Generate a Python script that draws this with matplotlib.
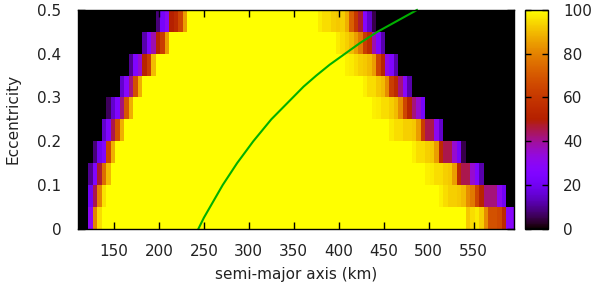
import numpy as np
import matplotlib
matplotlib.use("Agg")
import matplotlib.pyplot as plt

plt.rcParams['font.family'] = ['DejaVu Sans']

# ---- grid of the map ----
a_first_center = 109.0      # km, centre of first column
a_step = 5.0                # km
n_cols = 98
e_edges = [0.0, 0.05, 0.10, 0.15, 0.20, 0.25, 0.30, 0.35, 0.40, 0.45, 0.50]

# ---- per-row (eccentricity 0 .. 0.45) description ----
# first non-zero column on the left, values rising to the 100 plateau
left_first_col = [3, 3, 3, 4, 6, 7, 10, 12, 15, 18]
left_ramps = [
    [30, 80, 95],
    [20, 45, 80, 96],
    [10, 25, 47, 75, 90],
    [8, 20, 26, 65, 88],
    [15, 25, 45, 68, 88],
    [6, 15, 25, 42, 70, 88],
    [15, 28, 42, 68, 88],
    [10, 25, 35, 52, 62, 90],
    [12, 25, 38, 52, 62, 85],
    [8, 22, 30, 50, 55, 65, 85],
]
# last non-zero column on the right, values falling from the plateau
right_last_col = [97, 95, 90, 86, 81, 77, 74, 71, 68, 66]
right_ramps = [
    [92, 95, 97, 93, 82, 68, 68, 66, 55, 28, 28],
    [98, 95, 93, 93, 92, 90, 82, 78, 65, 52, 42, 42, 42, 30, 20],
    [98, 97, 95, 95, 93, 92, 85, 55, 45, 45, 35, 25, 12],
    [98, 95, 95, 93, 92, 85, 55, 45, 45, 35, 22, 5],
    [97, 95, 95, 93, 93, 92, 85, 62, 45, 45, 30, 15],
    [98, 97, 95, 95, 93, 90, 82, 65, 52, 42, 35, 22],
    [98, 95, 95, 92, 90, 82, 62, 55, 42, 28, 12],
    [98, 97, 95, 93, 92, 90, 85, 65, 52, 32, 25, 12],
    [97, 95, 93, 90, 85, 78, 62, 55, 38, 25, 12],
    [97, 95, 95, 93, 92, 93, 88, 72, 60, 47, 27, 15, 5],
]
plateau_value = 100

# ---- green curve ----
curve_a = [244, 250, 257, 264, 271, 279, 287, 296, 305, 315, 325, 337, 349,
           361, 375, 390, 407, 424, 443, 465, 487]
curve_e = [0.0, 0.025, 0.05, 0.075, 0.10, 0.125, 0.15, 0.175, 0.20, 0.225,
           0.25, 0.275, 0.30, 0.325, 0.35, 0.375, 0.40, 0.425, 0.45, 0.475, 0.50]

x_ticks = [150, 200, 250, 300, 350, 400, 450, 500, 550]
y_ticks = [0, 0.1, 0.2, 0.3, 0.4, 0.5]
y_ticklabels = ["0", "0.1", "0.2", "0.3", "0.4", "0.5"]
cb_ticks = [0, 20, 40, 60, 80, 100]

# ---- build the map ----
n_rows = len(e_edges) - 1
Z = np.zeros((n_rows, n_cols))
for r in range(n_rows):
    lf = left_first_col[r]
    lr = left_ramps[r]
    rl = right_last_col[r]
    rr = right_ramps[r]
    r_first = rl - len(rr) + 1
    Z[r, lf + len(lr):r_first] = plateau_value
    Z[r, lf:lf + len(lr)] = lr
    Z[r, r_first:rl + 1] = rr

a_centers = a_first_center + a_step * np.arange(n_cols)
a_edges = np.append(a_centers - a_step / 2, a_centers[-1] + a_step / 2)

W, H = 597, 297
fig = plt.figure(figsize=(W / 100, H / 100), dpi=100)
ax = fig.add_axes([78 / W, 1 - 228.7 / H, (514 - 78) / W, (228.7 - 10) / H])
cax = fig.add_axes([525.3 / W, 1 - 228.7 / H, (547.7 - 525.3) / W, (228.7 - 10) / H])

mesh = ax.pcolormesh(a_edges, e_edges, Z, cmap='gnuplot', vmin=0, vmax=100,
                     shading='flat', rasterized=True)
ax.plot(curve_a, curve_e, color='#00b000', lw=1.5, zorder=3, clip_on=False)

ax.set_xlim(110, 595)
ax.set_ylim(0, 0.5)
ax.set_xticks(x_ticks)
ax.set_yticks(y_ticks)
ax.set_yticklabels(y_ticklabels)
ax.tick_params(direction='in', top=True, right=True, length=5, width=1,
               labelsize=11, colors='black', labelcolor='#222222')
ax.tick_params(axis='x', pad=11)
ax.tick_params(axis='y', pad=12)
for s in ax.spines.values():
    s.set_linewidth(1.0)
    s.set_zorder(5)

cb = fig.colorbar(mesh, cax=cax, ticks=cb_ticks)
cb.outline.set_linewidth(1.0)
cax.tick_params(direction='in', left=True, right=True, length=4, width=1,
                labelsize=11, labelcolor='#222222', pad=11)

fig.text(296 / W, 1 - 275 / H, "semi-major axis (km)", ha='center', va='center',
         fontsize=11, color='#222222')
fig.text(13 / W, 1 - 119 / H, "Eccentricity", ha='center', va='center',
         rotation=90, fontsize=11, color='#222222')

fig.savefig("out.png", dpi=100)
